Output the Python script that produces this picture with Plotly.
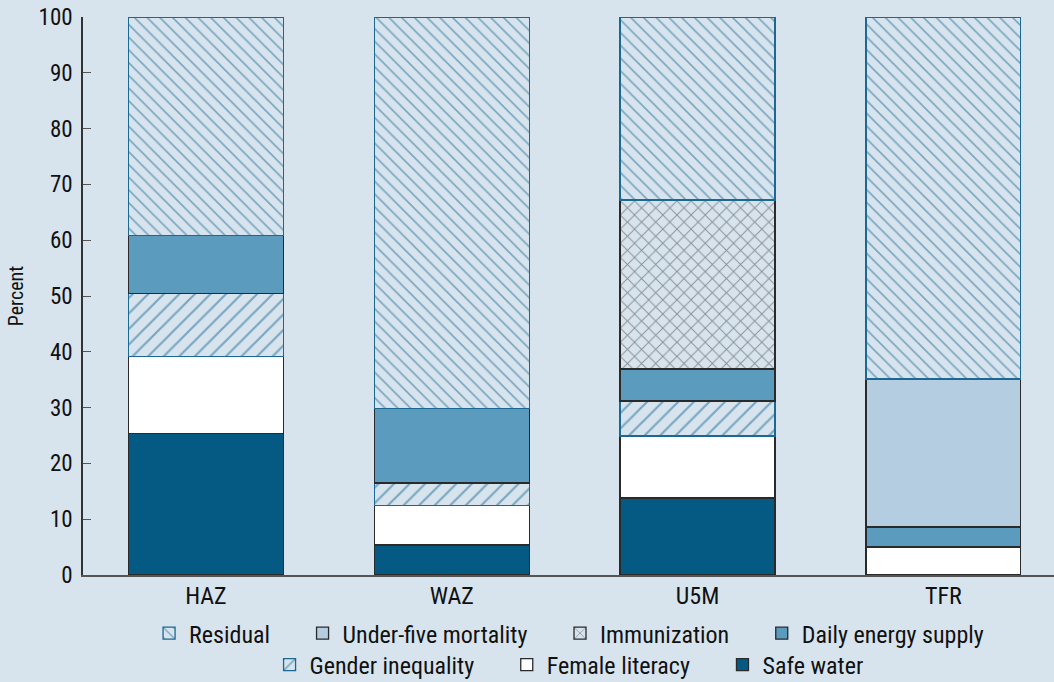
import plotly.graph_objects as go

categories = ["HAZ", "WAZ", "U5M", "TFR"]
safe_water = [25.4, 5.4, 13.8, None]
female_literacy = [13.8, 7.1, 11.1, 5.0]
gender_inequality = [11.3, 4.0, 6.3, None]
daily_energy = [10.4, 13.4, 5.7, 3.6]
immunization = [None, None, 30.3, None]
under_five = [None, None, None, 26.5]
residual = [39.1, 70.1, 32.8, 64.9]

BG = "#d7e4ee"
FONT = "Liberation Sans Narrow, Roboto Condensed, Arial Narrow, sans-serif"
EDGE = "#2a2a2a"
BLUE_LINE = "#1b6892"
NB = "\u00a0"

fig = go.Figure()

def add(name, y, color, legend, pattern=None, line_color=EDGE):
    marker = dict(color=color, line=dict(color=line_color, width=1.3))
    if pattern:
        marker["pattern"] = pattern
    fig.add_trace(go.Bar(name=name + NB * 5, x=categories, y=y, width=0.63,
                         marker=marker, legend=legend))

add("Safe water", safe_water, "#045a82", "legend2")
add("Female literacy", female_literacy, "#ffffff", "legend2")
add("Gender inequality", gender_inequality, BG, "legend2",
    dict(shape="/", fgcolor=BLUE_LINE, bgcolor=BG, size=11, solidity=0.2),
    line_color=BLUE_LINE)
add("Daily energy supply", daily_energy, "#5b9bbe", "legend")
add("Immunization", immunization, BG, "legend",
    dict(shape="x", fgcolor="#3a3a3a", bgcolor=BG, size=10, solidity=0.18))
add("Under-five mortality", under_five, "#b5cde0", "legend")
add("Residual", residual, BG, "legend",
    dict(shape="\\", fgcolor=BLUE_LINE, bgcolor=BG, size=9, solidity=0.18),
    line_color=BLUE_LINE)

fig.update_layout(
    barmode="stack",
    width=1054, height=682,
    paper_bgcolor=BG, plot_bgcolor=BG,
    margin=dict(l=83, r=0, t=17, b=107, autoexpand=False),
    font=dict(family=FONT, size=23, color="#111111"),
    xaxis=dict(range=[-0.5, 3.45], showline=True, linecolor="#555555", linewidth=1.5,
               ticks="", showgrid=False, tickfont=dict(size=24), zeroline=False,
               ticklabelstandoff=-2, automargin=False),
    yaxis=dict(range=[0, 100], dtick=10, showline=True, linecolor="#333333", linewidth=1.5,
               ticks="inside", ticklen=8, tickcolor="#555555", showgrid=False,
               zeroline=False, tickfont=dict(size=23), ticklabelstandoff=4,
               automargin=False,
               title=dict(text="Percent", font=dict(size=20), standoff=10)),
    legend=dict(orientation="h", x=0.515, xanchor="center", yref="container",
                y=0.104, yanchor="top",
                traceorder="reversed", font=dict(size=24), bgcolor="rgba(0,0,0,0)"),
    legend2=dict(orientation="h", x=0.515, xanchor="center", yref="container",
                 y=0.058, yanchor="top",
                 traceorder="reversed", font=dict(size=24), bgcolor="rgba(0,0,0,0)"),
    showlegend=True,
)

fig.write_html("out.html", config={"displayModeBar": False},
               post_script="document.body.style.margin='0';document.body.style.padding='0';")
